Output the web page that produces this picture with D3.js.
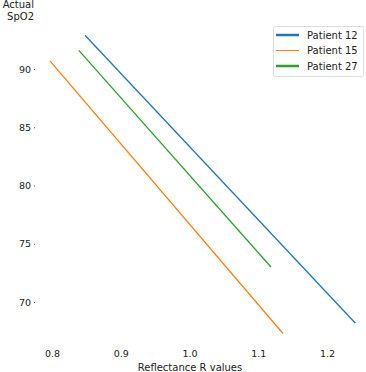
<!DOCTYPE html>
<html><head><meta charset="utf-8">
<script src="https://cdn.jsdelivr.net/npm/d3@7"></script>
<style>body{margin:0;background:#fff}svg text{font-family:"DejaVu Sans",sans-serif;fill:#222}</style>
</head><body>
<svg id="c" width="366" height="372"></svg>
<script>
const seriesNames = ["Patient 12", "Patient 15", "Patient 27"];
const colors = ["#1f77b4", "#ff7f0e", "#2ca02c"];
const patient12 = [[0.848, 92.9], [1.241, 68.2]];
const patient15 = [[0.797, 90.7], [1.136, 67.3]];
const patient27 = [[0.839, 91.6], [1.1185, 73.0]];
const xTicks = [0.8, 0.9, 1.0, 1.1, 1.2];
const yTicks = [70, 75, 80, 85, 90];
const series = [patient12, patient15, patient27];

const svg = d3.select("#c");
const x = d3.scaleLinear().domain([0.8, 1.2]).range([52, 327]);
const y = d3.scaleLinear().domain([70, 90]).range([302, 69]);

const gx = svg.append("g").attr("transform", "translate(0,350)")
  .call(d3.axisBottom(x).tickValues(xTicks).tickFormat(d3.format(".1f")).tickSize(0).tickPadding(0));
gx.select(".domain").remove();
gx.selectAll("text").attr("font-size", 9.5).attr("dy", "0.71em");

const gy = svg.append("g").attr("transform", "translate(35,0)")
  .call(d3.axisLeft(y).tickValues(yTicks).tickSize(1).tickPadding(3));
gy.select(".domain").remove();
gy.selectAll("line").attr("stroke", "#555");
gy.selectAll("text").attr("font-size", 9.5);

const line = d3.line().x(d => x(d[0])).y(d => y(d[1]));
series.forEach((s, i) => {
  svg.append("path").datum(s).attr("d", line).attr("fill", "none")
    .attr("stroke", colors[i]).attr("stroke-width", 1.3);
});

svg.append("text").attr("x", 34).attr("y", 8).attr("text-anchor", "end").attr("font-size", 10).text("Actual");
svg.append("text").attr("x", 34).attr("y", 20).attr("text-anchor", "end").attr("font-size", 10).text("SpO2");
svg.append("text").attr("x", 190).attr("y", 371).attr("text-anchor", "middle").attr("font-size", 10).text("Reflectance R  values");

const lg = svg.append("g");
lg.append("rect").attr("x", 273.5).attr("y", 26.5).attr("width", 90).attr("height", 50).attr("rx", 2)
  .attr("fill", "#fff").attr("stroke", "#ddd");
const lw = [2.5, 1, 2.5];
seriesNames.forEach((n, i) => {
  const yy = 35 + i * 15.5;
  lg.append("line").attr("x1", 276).attr("x2", 299).attr("y1", yy).attr("y2", yy)
    .attr("stroke", colors[i]).attr("stroke-width", lw[i]);
  lg.append("text").attr("x", 307).attr("y", yy).attr("dy", "0.35em").attr("font-size", 10).text(n);
});
</script>
</body></html>
